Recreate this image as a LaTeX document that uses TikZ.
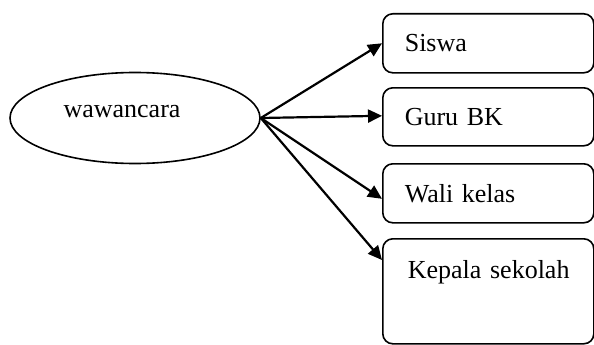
\documentclass[tikz,border=0pt]{standalone}
\usepackage{fontspec}
\setmainfont{Liberation Serif}
\usetikzlibrary{shapes.geometric,arrows.meta,calc}
\begin{document}
\begin{tikzpicture}[x=1pt,y=-1pt,
  every node/.style={font=\fontsize{26}{30}\selectfont},
  box/.style={draw, line width=1.6pt, rounded corners=10pt, minimum width=211pt,
    text width=167pt, align=left, inner xsep=22pt, anchor=north west},
  conn/.style={line width=2.2pt, -{Triangle[length=14pt,width=13pt]}}]
\useasboundingbox (0,0) rectangle (594,345);
\node[draw, ellipse, line width=1.6pt, minimum width=250pt, minimum height=91pt, inner sep=0pt,
  text depth=14pt] (w) at (135,118) {wawancara\hspace*{26pt}};
\node[box, minimum height=59pt] (siswa) at (382,13) {Siswa};
\node[box, minimum height=58pt] (guru) at (382,87) {Guru BK};
\node[box, minimum height=59pt] (wali) at (382,163) {Wali kelas};
\node[box, inner ysep=0pt, text height=40pt, text depth=65pt] (kep) at (382,238) {\hspace*{3pt}\mbox{Kepala sekolah}};
\draw[conn] (w.east) -- (siswa.west);
\draw[conn] (w.east) -- ($(guru.west)+(0,-1)$);
\draw[conn] (w.east) -- ($(wali.west)+(0,5.5)$);
\draw[conn] (w.east) -- ($(kep.north west)+(0,22)$);
\end{tikzpicture}
\end{document}
